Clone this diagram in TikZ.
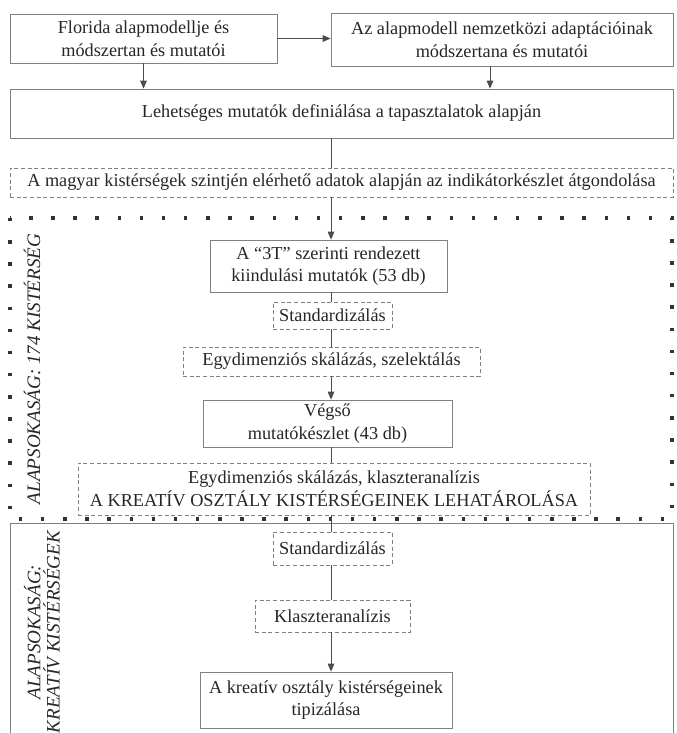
\documentclass[tikz,border=0pt]{standalone}
\usepackage{fontspec}
\setmainfont{Liberation Serif}
\usetikzlibrary{arrows.meta}
\begin{document}
\begin{tikzpicture}[x=0.75pt,y=-0.75pt,
  every node/.style={font=\fontsize{13.7}{17}\selectfont, text=black!85},
  box/.style={draw=black!50, line width=0.6pt, inner sep=0pt, align=center},
  dbox/.style={box, dash pattern=on 3pt off 2pt},
  dotframe/.style={draw=black!80, line width=2.6pt, dash pattern=on 2.6pt off 14pt},
  frame/.style={draw=black!50, line width=0.6pt},
  conn/.style={draw=black!70, line width=0.6pt},
  arr/.style={conn, -{Triangle[width=5pt,length=6pt]}},
  side/.style={rotate=90, font=\itshape\fontsize{14.3}{14.5}\selectfont, align=center}]
\useasboundingbox (0,0) rectangle (676,733);
\coordinate (sp) at (331,0);

% frames of the two populations
\draw[dotframe] (10,218) rectangle (672,519);
\draw[frame] (10,740) -- (10,523) -- (673,523) -- (673,740);

% boxes
\node[box, minimum width=200.25pt, minimum height=36.75pt] (A) at (143.5,38.5) {Florida alapmodellje és\\módszertan és mutatói};
\node[box, minimum width=256.5pt, minimum height=39.75pt] (B) at (502,39.5) {Az alapmodell nemzetközi adaptációinak\\módszertana és mutatói};
\node[box, minimum width=497.25pt, minimum height=36.75pt] (C) at (341.5,113.5) {Lehetséges mutatók definiálása a tapasztalatok alapján};
\node[dbox, minimum width=497.25pt, minimum height=21.75pt] (D) at (341.5,182.5) {A magyar kistérségek szintjén elérhető adatok alapján az indikátorkészlet átgondolása};
\node[box, minimum width=177.75pt, minimum height=39pt] (E) at (328.5,266) {A “3T” szerinti rendezett\\kiindulási mutatók (53 db)};
\node[dbox, minimum width=89.25pt, minimum height=20.25pt] (S1) at (332.5,315.5) {Standardizálás};
\node[dbox, minimum width=222.75pt, minimum height=21.75pt] (E1) at (331.5,361.5) {Egydimenziós skálázás, szelektálás};
\node[box, minimum width=186.75pt, minimum height=35.25pt] (F) at (327.5,423.5) {Végső\\mutatókészlet (43 db)};
\node[dbox, minimum width=384pt, minimum height=39pt] (G) at (334,489) {Egydimenziós skálázás, klaszteranalízis\\A KREATÍV OSZTÁLY KISTÉRSÉGEINEK LEHATÁROLÁSA};
\node[dbox, minimum width=89.25pt, minimum height=24.75pt] (S2) at (332.5,548.5) {Standardizálás};
\node[dbox, minimum width=116.25pt, minimum height=24pt] (K) at (332.5,616) {Klaszteranalízis};
\node[box, minimum width=189pt, minimum height=42pt] (T) at (326,700) {A kreatív osztály kistérségeinek\\tipizálása};

% side labels
\node[side] (L1) at (32,369) {ALAPSOKASÁG: 174 KISTÉRSÉG};
\node[side] (L2) at (42,632) {ALAPSOKASÁG:\\KREATÍV KISTÉRSÉGEK};

% connectors
\draw[arr] (A.east) -- (A.east -| B.west);
\draw[arr] (A.south) -- (A.south |- C.north);
\draw[arr] ([xshift=-9pt]B.south) -- ([xshift=-9pt]B.south |- C.north);
\draw[conn] (C.south -| sp) -- (D.north -| sp);
\draw[arr] (D.south -| sp) -- (E.north -| sp);
\draw[conn] (E.south -| sp) -- (S1.north -| sp);
\draw[conn] (S1.south -| sp) -- (E1.north -| sp);
\draw[arr] (E1.south -| sp) -- (F.north -| sp);
\draw[conn] (F.south -| sp) -- (G.north -| sp);
\draw[conn] (G.south -| sp) -- (S2.north -| sp);
\draw[conn] (S2.south -| sp) -- (K.north -| sp);
\draw[arr] (K.south -| sp) -- (T.north -| sp);
\end{tikzpicture}
\end{document}
